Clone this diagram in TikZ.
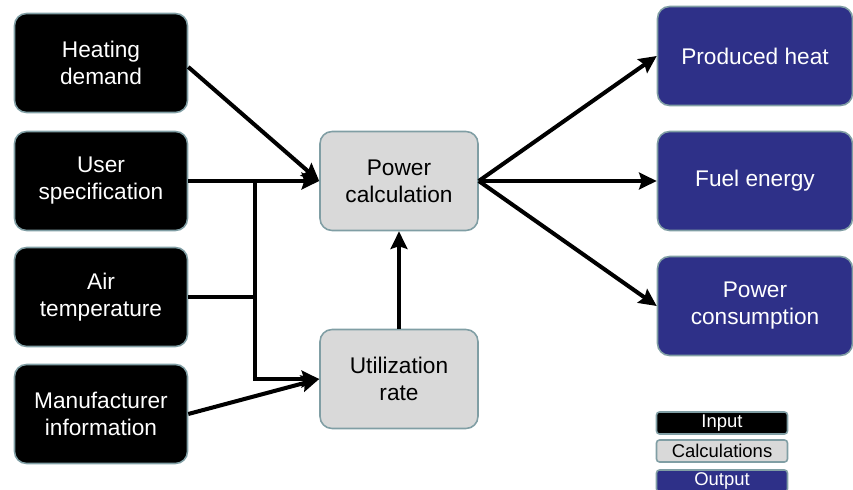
\documentclass[tikz,border=0pt]{standalone}
\usepackage{fontspec}
\setmainfont{Liberation Sans}
\usetikzlibrary{arrows.meta}

\definecolor{boxline}{RGB}{128,158,164}
\definecolor{calcgray}{RGB}{217,217,217}
\definecolor{outblue}{RGB}{46,48,136}

\begin{document}
\begin{tikzpicture}[x=0.02cm,y=-0.02cm,
		inbox/.style={rectangle,rounded corners=0.24cm,draw=boxline,line width=0.9pt,
			fill=black,text=white,minimum width=3.46cm,minimum height=1.98cm,align=center,
			font=\fontsize{12.9}{15.4}\selectfont},
		calcbox/.style={inbox,fill=calcgray,text=black,minimum width=3.16cm},
		outbox/.style={inbox,fill=outblue,minimum width=3.9cm},
		keybox/.style={rectangle,rounded corners=0.06cm,draw=boxline,line width=0.9pt,
			minimum width=2.62cm,minimum height=0.44cm,inner sep=0pt,
			font=\fontsize{10.5}{11}\selectfont},
		flow/.style={line width=2.3pt,-{Stealth[length=10pt,width=9.5pt,inset=1.5pt]}},
		link/.style={line width=2.3pt}]
		\clip (0,0) rectangle (853,490);
%		\draw[help lines,step=50] (0,0) grid (853,490);
		% inputs
		\path (101,63) node(heat_dem) [inbox] {Heating\\demand};
		\path (101,181) node(user_spec) [inbox] {User\\specification};
		\path (101,297) node(air_temp) [inbox] {Air\\temperature};
		\path (101,414) node(manuf_info) [inbox] {Manufacturer\\information};
		% calculations
		\path (399,181) node(power_calc) [calcbox] {Power\\calculation};
		\path (399,379) node(util_rate) [calcbox] {Utilization\\rate};
		% outputs
		\path (755,56) node(prod_heat) [outbox] {Produced heat};
		\path (755,181) node(fuel_en) [outbox] {Fuel energy};
		\path (755,306) node(power_cons) [outbox] {Power\\consumption};
		% key
		\path (722,423) node(key_input) [keybox,fill=black,text=white] {Input};
		\path (722,451) node(key_calc) [keybox,fill=calcgray] {Calculations};
		\path (722,481) node(key_output) [keybox,fill=outblue,text=white] {Output};

		\path (255,181) coordinate (split_top);
		\path (255,297) coordinate (split_mid);
		\path (255,379) coordinate (split_bot);

		\draw[flow] (heat_dem.east) ++(0,4) -- (power_calc.west);
		\draw[flow] (user_spec.east) -- (power_calc.west);
		\draw[link] (split_top) -- (split_bot);
		\draw[link] (air_temp.east) -- (split_mid);
		\draw[flow] ([xshift=-1.15pt]split_bot) -- (util_rate.west);
		\draw[flow] (manuf_info.east) -- (util_rate.west);
		\draw[flow] (util_rate.north) -- (power_calc.south);
		\draw[flow] (power_calc.east) -- (prod_heat.west);
		\draw[flow] (power_calc.east) -- (fuel_en.west);
		\draw[flow] (power_calc.east) -- (power_cons.west);
	\end{tikzpicture}
\end{document}
